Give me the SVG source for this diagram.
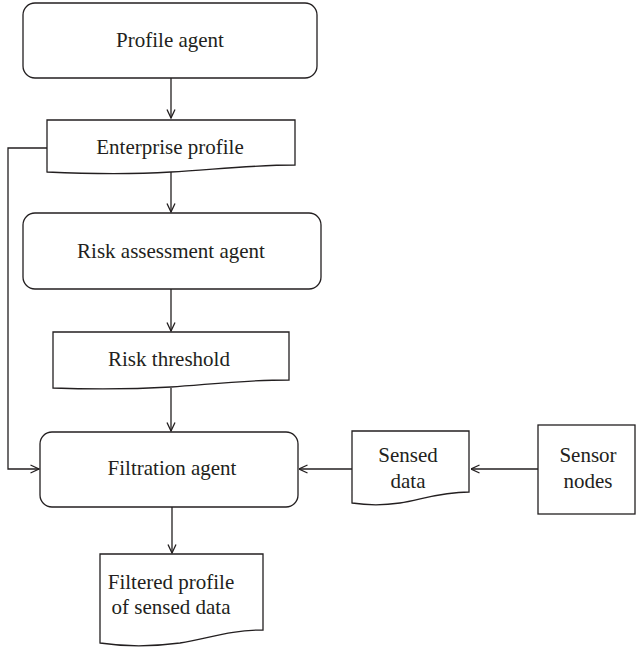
<svg xmlns="http://www.w3.org/2000/svg" width="637" height="650" viewBox="0 0 637 650">
<defs>
<style>
.box{fill:#fff;stroke:#231f20;stroke-width:1.3}
.ln{fill:none;stroke:#231f20;stroke-width:1.3}
text{font-family:"Liberation Serif","Times New Roman",serif;font-size:21px;fill:#231f20;text-anchor:middle}
</style>
<marker id="arr" viewBox="0 0 10 10" refX="9.5" refY="5" markerWidth="10" markerHeight="10" markerUnits="userSpaceOnUse" orient="auto">
<path d="M1,1 L9.5,5 L1,9" fill="none" stroke="#231f20" stroke-width="1.3"/>
</marker>
</defs>
<rect width="637" height="650" fill="#fff"/>
<g id="connectors">
<path class="ln" d="M171,78 V118" marker-end="url(#arr)"/>
<path class="ln" d="M171,172 V212" marker-end="url(#arr)"/>
<path class="ln" d="M171,289 V331" marker-end="url(#arr)"/>
<path class="ln" d="M171,388 V431" marker-end="url(#arr)"/>
<path class="ln" d="M47,148 H8 V469 H39" marker-end="url(#arr)"/>
<path class="ln" d="M352,469 H299" marker-end="url(#arr)"/>
<path class="ln" d="M538,469 H471" marker-end="url(#arr)"/>
<path class="ln" d="M172,507 V553" marker-end="url(#arr)"/>
</g>
<g id="profile-agent">
<rect class="box" x="23" y="3" width="294" height="75" rx="12"/>
<text x="170" y="47">Profile agent</text>
</g>
<g id="enterprise-profile">
<path class="box" d="M47,120 H295 V165 C250,165 210,170 171,172 C120,175 70,173 47,172 Z"/>
<text x="170" y="154">Enterprise profile</text>
</g>
<g id="risk-assessment-agent">
<rect class="box" x="23" y="213" width="298" height="76" rx="12"/>
<text x="171" y="258">Risk assessment agent</text>
</g>
<g id="risk-threshold">
<path class="box" d="M53,332 H289 V380 C240,380 205,385 171,387 C120,390 80,389 53,388 Z"/>
<text x="169" y="366">Risk threshold</text>
</g>
<g id="filtration-agent">
<rect class="box" x="40" y="432" width="258" height="75" rx="12"/>
<text x="172" y="475">Filtration agent</text>
</g>
<g id="sensed-data">
<path class="box" d="M352,431 H469 V492 C440,492 420,500 400,503 C380,506 365,505 352,503 Z"/>
<text x="408" y="462">Sensed</text>
<text x="408" y="488">data</text>
</g>
<g id="sensor-nodes">
<rect class="box" x="538" y="425" width="97" height="89"/>
<text x="588" y="462">Sensor</text>
<text x="588" y="488">nodes</text>
</g>
<g id="filtered-profile">
<path class="box" d="M100,554 H263 V630 C230,630 210,638 180,643 C150,647 120,646 100,643 Z"/>
<text x="171" y="589">Filtered profile</text>
<text x="171" y="614">of sensed data</text>
</g>
</svg>
